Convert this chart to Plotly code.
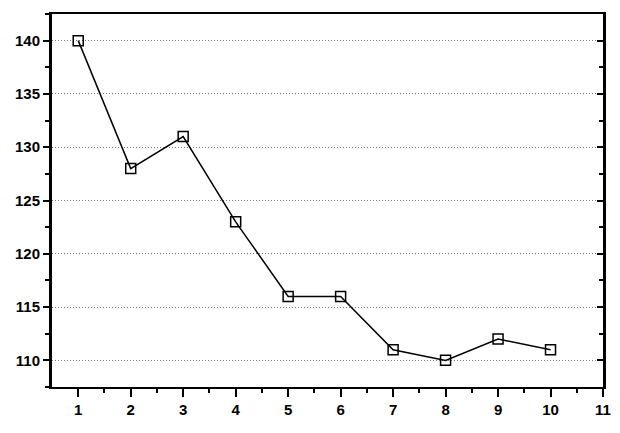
import plotly.graph_objects as go

x_vals = [1, 2, 3, 4, 5, 6, 7, 8, 9, 10]
y_vals = [140, 128, 131, 123, 116, 116, 111, 110, 112, 111]
y_ticks = [110, 115, 120, 125, 130, 135, 140]
x_ticks = [1, 2, 3, 4, 5, 6, 7, 8, 9, 10, 11]

font = dict(family="Liberation Sans, Arial", size=15, color="black")

fig = go.Figure()
fig.add_trace(go.Scatter(
    x=x_vals, y=y_vals, mode="lines+markers",
    line=dict(color="black", width=1.5),
    marker=dict(symbol="square-open", size=10, color="black", line=dict(width=1.5)),
    showlegend=False,
))
fig.add_trace(go.Scatter(x=[x_vals[0]], y=[y_vals[0]], yaxis="y2", mode="markers",
                         marker=dict(opacity=0), showlegend=False, hoverinfo="skip"))
fig.add_trace(go.Scatter(x=[x_vals[0]], y=[y_vals[0]], xaxis="x2", mode="markers",
                         marker=dict(opacity=0), showlegend=False, hoverinfo="skip"))

fig.update_layout(
    width=612, height=425,
    margin=dict(l=44, r=17, t=6, b=46),
    paper_bgcolor="white", plot_bgcolor="white",
    font=font,
    xaxis=dict(
        range=[0.5, 11], tickvals=x_ticks, ticktext=[f"<b>{v}</b>" for v in x_ticks],
        ticks="outside", ticklen=8, tickwidth=2, tickcolor="black",
        minor=dict(ticks="outside", tickvals=[v + 0.5 for v in x_ticks[:-1]], ticklen=4, tickwidth=1.5, tickcolor="black"),
        showline=True, linecolor="black", linewidth=2,
        showgrid=False, zeroline=False,
    ),
    yaxis=dict(
        range=[107.5, 142.5], tickvals=y_ticks, ticktext=[f"<b>{v}</b>" for v in y_ticks],
        ticks="outside", ticklen=6, tickwidth=2, tickcolor="black",
        minor=dict(ticks="outside", dtick=2.5, tick0=107.5, ticklen=4, tickwidth=1.5, tickcolor="black", showgrid=False),
        showline=True, linecolor="black", linewidth=3,
        showgrid=True, gridcolor="#777777", gridwidth=1, griddash="1px,2px",
        zeroline=False,
    ),
    yaxis2=dict(
        range=[107.5, 142.5], overlaying="y", side="right",
        tickvals=y_ticks, showticklabels=False,
        ticks="inside", ticklen=6, tickwidth=2, tickcolor="black",
        minor=dict(ticks="inside", dtick=2.5, tick0=107.5, ticklen=4, tickwidth=1.5, tickcolor="black"),
        showline=True, linecolor="black", linewidth=3,
        showgrid=False, zeroline=False,
    ),
    xaxis2=dict(overlaying="x", side="top", range=[0.5, 11], showline=True, linecolor="black",
                linewidth=2, showticklabels=False, ticks="", showgrid=False, zeroline=False),
)

fig.write_html("out.html")
